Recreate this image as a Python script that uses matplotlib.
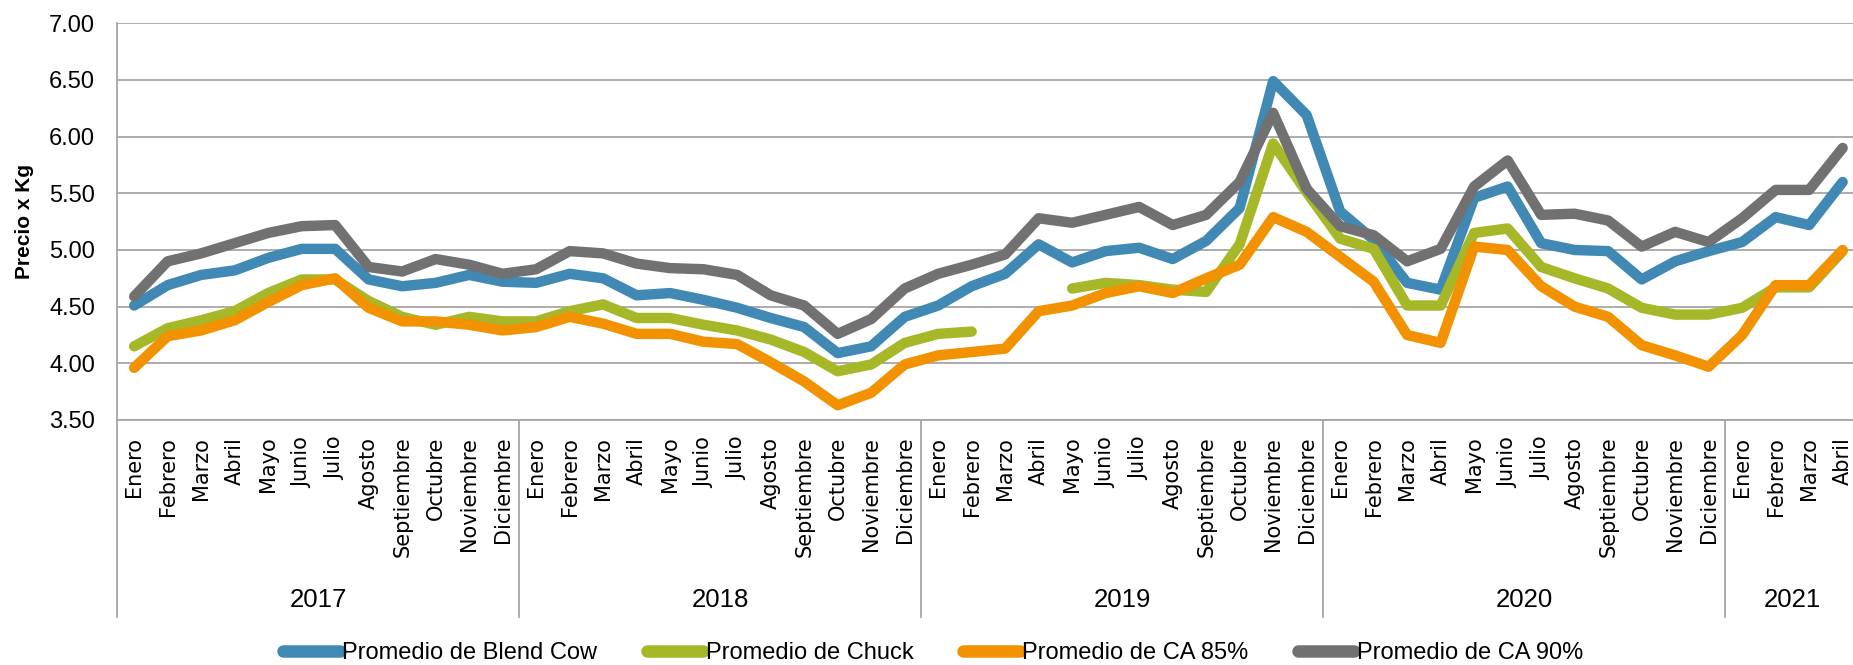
import matplotlib.pyplot as plt
from matplotlib.lines import Line2D
import numpy as np

meses = ["Enero", "Febrero", "Marzo", "Abril", "Mayo", "Junio", "Julio", "Agosto",
         "Septiembre", "Octubre", "Noviembre", "Diciembre"]
anios = ["2017", "2018", "2019", "2020", "2021"]
meses_2021 = 4

blend_cow = [4.51, 4.69, 4.78, 4.82, 4.93, 5.01, 5.01, 4.74, 4.68, 4.71, 4.78, 4.72,
             4.71, 4.79, 4.75, 4.60, 4.62, 4.56, 4.49, 4.40, 4.32, 4.09, 4.15, 4.41,
             4.51, 4.68, 4.79, 5.05, 4.89, 4.99, 5.02, 4.92, 5.08, 5.37, 6.49, 6.19,
             5.34, 5.09, 4.71, 4.65, 5.46, 5.56, 5.06, 5.00, 4.99, 4.74, 4.90, 4.99,
             5.07, 5.29, 5.22, 5.60]
chuck = [4.15, 4.31, 4.38, 4.46, 4.62, 4.74, 4.74, 4.55, 4.41, 4.34, 4.41, 4.37,
         4.37, 4.46, 4.52, 4.40, 4.40, 4.34, 4.29, 4.21, 4.10, 3.93, 3.99, 4.18,
         4.26, 4.28, np.nan, np.nan, 4.66, 4.71, 4.69, 4.65, 4.63, 5.05, 5.94, 5.51,
         5.10, 5.01, 4.51, 4.51, 5.15, 5.19, 4.85, 4.75, 4.66, 4.49, 4.43, 4.43,
         4.49, 4.67, 4.67, 4.99]
ca85 = [3.96, 4.24, 4.29, 4.38, 4.54, 4.69, 4.75, 4.49, 4.37, 4.37, 4.34, 4.29,
        4.32, 4.41, 4.35, 4.26, 4.26, 4.19, 4.17, 4.01, 3.84, 3.63, 3.74, 3.99,
        4.07, 4.10, 4.13, 4.46, 4.51, 4.62, 4.68, 4.62, 4.75, 4.87, 5.29, 5.16,
        4.94, 4.72, 4.25, 4.18, 5.03, 5.00, 4.68, 4.50, 4.41, 4.16, 4.07, 3.97,
        4.25, 4.69, 4.69, 5.00]
ca90 = [4.59, 4.90, 4.97, 5.06, 5.15, 5.21, 5.22, 4.85, 4.81, 4.92, 4.87, 4.79,
        4.83, 4.99, 4.97, 4.88, 4.84, 4.83, 4.78, 4.60, 4.51, 4.26, 4.39, 4.66,
        4.79, 4.87, 4.96, 5.28, 5.24, 5.31, 5.38, 5.22, 5.31, 5.60, 6.21, 5.54,
        5.21, 5.13, 4.90, 5.01, 5.56, 5.79, 5.31, 5.32, 5.26, 5.03, 5.16, 5.07,
        5.28, 5.53, 5.53, 5.90]

series = [("Promedio de Blend Cow", blend_cow, "#4189B5"),
          ("Promedio de Chuck", chuck, "#A6B828"),
          ("Promedio de CA 85%", ca85, "#F39200"),
          ("Promedio de CA 90%", ca90, "#717171")]

etiquetas = meses * 4 + meses[:meses_2021]
x = np.arange(len(etiquetas))
gris = "#A6A6A6"

W, H = 1853, 665
fig = plt.figure(figsize=(W / 100, H / 100), dpi=100)
# plot area: left edge 117px, top 23px, bottom 420px, runs a bit past right edge
ax = fig.add_axes([117.4 / W, 1 - 420 / H, 52 * 33.5 / W, (420 - 23.3) / H])

for nombre, vals, color in series:
    ax.plot(x, vals, color=color, lw=7.5, solid_capstyle="round",
            solid_joinstyle="round", label=nombre)

ax.set_xlim(-0.5, len(etiquetas) - 0.5)
ax.set_ylim(3.5, 7.0)
ax.set_yticks(np.arange(3.5, 7.01, 0.5))
ax.set_yticklabels(["%.2f" % v for v in np.arange(3.5, 7.01, 0.5)],
                   fontfamily="Liberation Sans", fontsize=17)
ax.grid(axis="y", color=gris, lw=1.3)
ax.set_axisbelow(True)

ax.set_xticks(x)
ax.set_xticklabels(etiquetas, rotation=90, fontfamily="DejaVu Sans", fontsize=15,
                   va="top", ha="center")
ax.tick_params(axis="x", length=0, pad=12)
ax.tick_params(axis="y", length=0, pad=16)

ax.spines["right"].set_visible(False)
ax.spines["top"].set_visible(False)
ax.spines["left"].set_color(gris)
ax.spines["bottom"].set_color(gris)
ax.spines["left"].set_linewidth(1.3)
ax.spines["bottom"].set_linewidth(1.3)

# year groups below the month labels
trans = ax.get_xaxis_transform()
y_sep = -(617 - 420) / (420 - 23.3)
y_anio = -(600 - 420) / (420 - 23.3)
for i, anio in enumerate(anios):
    ini = i * 12
    fin = min(ini + 12, len(etiquetas))
    ax.plot([ini - 0.5, ini - 0.5], [0, y_sep], color=gris, lw=1.3,
            transform=trans, clip_on=False)
    ax.text((ini + fin - 1) / 2, y_anio, anio, transform=trans, ha="center",
            va="center", fontfamily="Liberation Sans", fontsize=18.5)

fig.text(24 / W, 1 - 221.5 / H, "Precio x Kg", rotation=90, ha="center",
         va="center", fontfamily="Liberation Sans", fontweight="bold", fontsize=15)

handles = [Line2D([], [], color=c, lw=9, solid_capstyle="round") for _, _, c in series]
fig.legend(handles, [s[0] for s in series], loc="center", ncol=4,
           bbox_to_anchor=(933 / W, 1 - 653 / H), frameon=False,
           prop={"family": "Liberation Sans", "size": 17},
           handlelength=2.4, handletextpad=0.1, columnspacing=2.1,
           borderaxespad=0, borderpad=0)

fig.savefig("out.png", dpi=100)
